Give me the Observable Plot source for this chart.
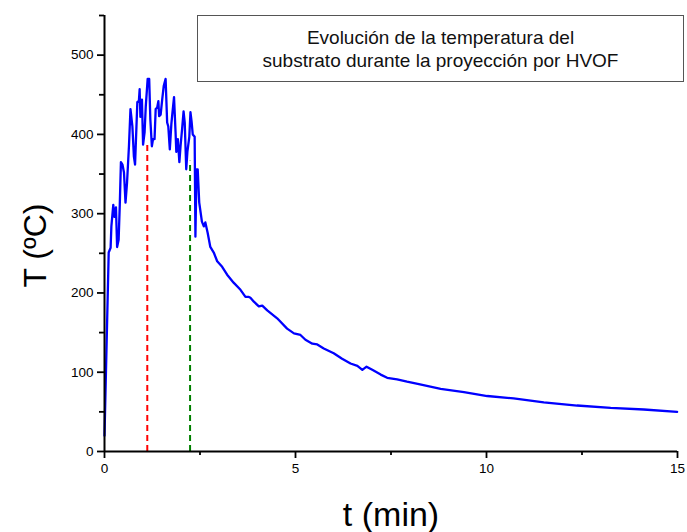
<!DOCTYPE html>
<html>
<head>
<meta charset="utf-8">
<script src="https://cdn.jsdelivr.net/npm/d3@7"></script>
<script src="https://cdn.jsdelivr.net/npm/@observablehq/plot@0.6"></script>
<style>
  html, body { margin: 0; padding: 0; background: #fff; }
  #wrap { position: relative; width: 687px; height: 532px; font-family: "Liberation Sans", Arial, sans-serif; }
  #title {
    position: absolute; left: 197px; top: 15px; width: 485px; height: 65px;
    border: 1px solid #555; background: #fff;
    display: flex; flex-direction: column; justify-content: center; align-items: center;
    font-size: 19px; line-height: 23px; color: #111; text-align: center;
  }
</style>
</head>
<body>
<div id="wrap">
  <div id="chart"></div>
  <div id="title"><div>Evolución de la temperatura del</div><div>substrato durante la proyección por HVOF</div></div>
</div>
<script>
// time in minutes
const tMin = [0, 0.11, 0.16, 0.18, 0.23, 0.26, 0.30, 0.33, 0.37, 0.40, 0.43, 0.47, 0.51, 0.55, 0.59, 0.64, 0.68, 0.73, 0.77, 0.80,
  0.86, 0.90, 0.92, 0.94, 0.98, 1.01, 1.05, 1.08, 1.13, 1.17, 1.20, 1.24, 1.27, 1.31, 1.34, 1.38, 1.41, 1.43, 1.47, 1.51,
  1.55, 1.60, 1.64, 1.67, 1.71, 1.75, 1.78, 1.82, 1.86, 1.88, 1.92, 1.96, 1.99, 2.03, 2.07, 2.10, 2.14, 2.17, 2.22, 2.25,
  2.28, 2.31, 2.36, 2.38, 2.41, 2.44, 2.48, 2.55, 2.60, 2.64, 2.70, 2.77, 2.86, 2.95, 3.08, 3.21, 3.38, 3.56, 3.69, 3.78,
  3.82, 3.91, 4.04, 4.13, 4.26, 4.52, 4.78, 4.96, 5.13, 5.26, 5.44, 5.57, 5.74, 6.00, 6.22, 6.44, 6.62, 6.75, 6.86, 7.01,
  7.23, 7.40, 7.66, 7.92, 8.23, 8.80, 9.41, 10.02, 10.71, 11.50, 12.37, 13.25, 14.12, 14.99];
// substrate temperature (ºC)
const tempC = [20, 251, 257, 284, 311, 296, 308, 258, 267, 311, 365, 362, 352, 314, 339, 385, 432, 410, 372, 362,
  441, 442, 457, 422, 444, 387, 403, 435, 470, 470, 419, 385, 394, 394, 432, 434, 442, 423, 425, 444,
  461, 470, 415, 410, 381, 413, 428, 447, 403, 378, 394, 365, 385, 406, 429, 415, 356, 378, 397, 428,
  416, 400, 397, 271, 356, 356, 314, 290, 284, 289, 276, 258, 251, 240, 233, 223, 213, 204, 195, 195,
  194, 189, 183, 184, 178, 168, 155, 149, 147, 141, 136, 135, 130, 124, 117, 111, 108, 103, 107, 103,
  97, 93, 91, 88, 85, 79, 75, 70, 67, 62, 58, 55, 53, 50];

// dashed markers (start / end of spraying)
const markerT = [1.12, 2.24];
const markerTemp = [389, 366];
const markerColors = ["#ff0000", "#008000"];

const xMajor = [0, 5, 10, 15];
const xMinor = [2.5, 7.5, 12.5];
const yMajor = [0, 100, 200, 300, 400, 500];
const yMinor = [50, 150, 250, 350, 450, 550];

const data = tMin.map((t, i) => ({t, T: tempC[i]}));
const markers = markerT.map((t, i) => ({t, T: markerTemp[i], c: markerColors[i]}));

const font = '"Liberation Sans", Arial, sans-serif';

const chart = Plot.plot({
  width: 687,
  height: 532,
  marginLeft: 104,
  marginRight: 10,
  marginTop: 15,
  marginBottom: 81,
  style: {fontFamily: font, fontSize: "13px", color: "#000", background: "#fff"},
  x: {domain: [0, 15]},
  y: {domain: [0, 550]},
  marks: [
    Plot.ruleX(markers, {x: "t", y1: 0, y2: "T", stroke: "c", strokeWidth: 2, strokeDasharray: "6,4"}),
    Plot.line(data, {x: "t", y: "T", stroke: "#0000ff", strokeWidth: 2.3}),
    Plot.axisY(yMajor, {tickSize: 7, tickPadding: 4, label: null, stroke: "#000", strokeWidth: 1.8, fontSize: 13.5}),
    Plot.axisY(yMinor, {tickSize: 5, tickFormat: () => "", label: null, stroke: "#000", strokeWidth: 1.8}),
    Plot.axisX(xMajor, {tickSize: 7, tickPadding: 5, label: null, stroke: "#000", strokeWidth: 1.8, fontSize: 13.5}),
    Plot.axisX(xMinor, {tickSize: 4, tickFormat: () => "", label: null, stroke: "#000", strokeWidth: 1.8}),
    Plot.ruleX([0], {y1: 0, y2: 550, stroke: "#000", strokeWidth: 2}),
    Plot.ruleY([0], {x1: 0, x2: 15, stroke: "#000", strokeWidth: 2}),
    Plot.text(["t (min)"], {frameAnchor: "bottom", dy: 64, fontSize: 34, textAnchor: "middle", lineAnchor: "middle", fill: "#000"}),
    Plot.text(["T (ºC)"], {frameAnchor: "left", dx: -69, dy: 12, rotate: -90, fontSize: 32, textAnchor: "middle", lineAnchor: "middle", fill: "#000"})
  ]
});
document.getElementById("chart").appendChild(chart);
</script>
</body>
</html>
